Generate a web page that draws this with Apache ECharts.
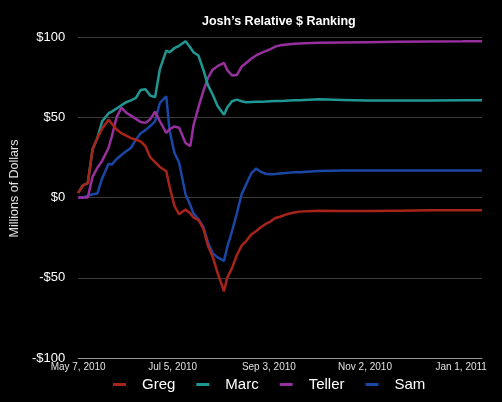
<!DOCTYPE html>
<html lang="en">
<head>
    <meta charset="UTF-8">
    <title>Josh's Relative $ Ranking</title>
    <style>
        html, body { margin: 0; padding: 0; background: #000; }
        .chart { width: 502px; height: 402px; }
    </style>
    <script src="https://cdn.jsdelivr.net/npm/echarts@6/dist/echarts.min.js"></script>
</head>
<body>
    <div class="chart"></div>
    <script>
        // days since May 7, 2010 for every sample
        var dayOffsets = [0, 3, 6, 9, 12, 15, 19, 21, 24, 27, 30, 33, 36, 39, 42, 45, 48, 51, 55, 57,
            60, 63, 67, 70, 72, 75, 78, 81, 84, 87, 91, 93, 96, 99, 102, 105, 108, 111, 114, 117,
            120, 123, 126, 129, 132, 135, 138, 150, 165, 180, 200, 220, 240, 252];

        var greg = [2.9, 7.5, 9, 30, 37, 43, 48.5, 46, 42.4, 40, 38.6, 37, 36, 35, 32, 25, 22, 19, 16.4, 7,
            -5, -10.5, -7.5, -10, -12.5, -14, -19, -30, -37, -47, -58.5, -50, -44, -36, -30, -27, -23, -21, -18.5, -16.5,
            -15, -12.8, -12, -10.8, -10, -9.3, -8.8, -8.3, -8.4, -8.4, -8.2, -8, -7.9, -7.9];
        var marc = [2.9, 7.5, 9, 30, 37, 47.5, 52.5, 53.5, 55.5, 57.5, 59.4, 60.5, 62, 67, 67.5, 63.5, 62.5, 80, 91.5, 90.5,
            93, 94.5, 97.4, 93.5, 90.5, 88.5, 80, 70, 64, 57, 51.5, 56, 60, 61, 60, 59.4, 59.5, 59.6, 59.7, 59.8,
            60, 60.1, 60.2, 60.3, 60.5, 60.6, 60.6, 61.2, 60.8, 60.4, 60.4, 60.5, 60.6, 60.6];
        var teller = [0, 0, 0, 13, 18.5, 23, 31, 38, 50, 56, 52.8, 51, 49, 47, 46.5, 48.8, 53.5, 47.5, 40.3, 42.5,
            44.2, 43.5, 34, 32, 45, 56, 66, 74.5, 79.8, 81.8, 83.9, 79.5, 76, 76.3, 81.5, 84, 86.5, 88.5, 90, 91.2,
            92.5, 94, 94.8, 95.2, 95.5, 95.8, 96, 96.4, 96.6, 96.8, 97, 97.2, 97.3, 97.4];
        var sam = [0, 0, 1, 2, 2.5, 12, 21, 20.5, 24, 26.5, 28.8, 31, 36, 40, 42, 44.5, 47.5, 59, 63, 42,
            28, 21.6, 2, -4.8, -10, -13.5, -18, -28, -34.8, -37.3, -39.5, -31, -21, -10, 2, 8.5, 15, 18, 16, 14.8,
            14.5, 14.7, 15, 15.2, 15.5, 15.7, 15.8, 16.5, 16.8, 16.8, 16.8, 16.8, 16.8, 16.8];

        var seriesNames = ['Greg', 'Marc', 'Teller', 'Sam'];
        var seriesColors = ['#a8231a', '#1f9893', '#982f9e', '#1a47a6'];

        // x tick positions (days since May 7, 2010) and their labels
        var xTickDays = [0, 59, 119, 179, 239];
        var xTickLabels = ['May 7, 2010', 'Jul 5, 2010', 'Sep 3, 2010', 'Nov 2, 2010', 'Jan 1, 2011'];
        var yTickLabels = ['-$100', '-$50', '$0', '$50', '$100'];

        function makeData(values) {
            return values.map(function (v, i) {
                return [dayOffsets[i], v];
            });
        }

        var allValues = [greg, marc, teller, sam];
        var font = "'Liberation Sans', Arial, sans-serif";

        var option = {
            backgroundColor: '#000',
            animation: false,
            title: {
                text: 'Josh\u2019s Relative $ Ranking',
                left: 197,
                top: 10,
                textStyle: { color: '#fff', fontSize: 12.5, fontWeight: 'bold', fontFamily: font }
            },
            legend: {
                top: 372,
                left: 108,
                icon: 'rect',
                itemWidth: 13,
                itemHeight: 3,
                itemGap: 21,
                data: seriesNames,
                textStyle: { color: '#fff', fontSize: 15, fontFamily: font, padding: [0, 0, 0, 11] }
            },
            grid: { left: 75, right: 20, top: 37, bottom: 44 },
            xAxis: {
                type: 'value',
                min: 0,
                max: 252,
                axisLine: { show: true, onZero: false, lineStyle: { color: '#9a9a9a', width: 1 } },
                axisTick: { show: false },
                splitLine: { show: false },
                axisLabel: {
                    customValues: xTickDays,
                    color: '#e0e0e0',
                    fontSize: 10,
                    fontFamily: font,
                    margin: 4,
                    formatter: function (val) {
                        var idx = xTickDays.indexOf(val);
                        return idx >= 0 ? xTickLabels[idx] : '';
                    }
                }
            },
            yAxis: {
                type: 'value',
                min: -100,
                max: 100,
                interval: 50,
                name: 'Millions of Dollars',
                nameLocation: 'middle',
                nameGap: 51,
                nameTextStyle: { color: '#e0e0e0', fontSize: 12.5, fontFamily: font, padding: [0, 0, 0, 18] },
                axisLine: { show: false },
                axisTick: { show: false },
                splitLine: { lineStyle: { color: '#3c3c3c', width: 1 } },
                axisLabel: {
                    color: '#fff',
                    fontSize: 13,
                    fontFamily: font,
                    margin: 13,
                    formatter: function (val) {
                        return yTickLabels[(val + 100) / 50];
                    }
                }
            },
            // Greg is drawn on top, Sam at the bottom
            series: seriesNames.map(function (name, i) {
                return {
                    name: name,
                    type: 'line',
                    z: 2 + seriesNames.length - i,
                    data: makeData(allValues[i]),
                    showSymbol: false,
                    symbol: 'none',
                    color: seriesColors[i],
                    lineStyle: { width: 2.5, color: seriesColors[i] }
                };
            })
        };

        var chart = echarts.init(document.querySelector('.chart'));
        chart.setOption(option);
    </script>
</body>
</html>
